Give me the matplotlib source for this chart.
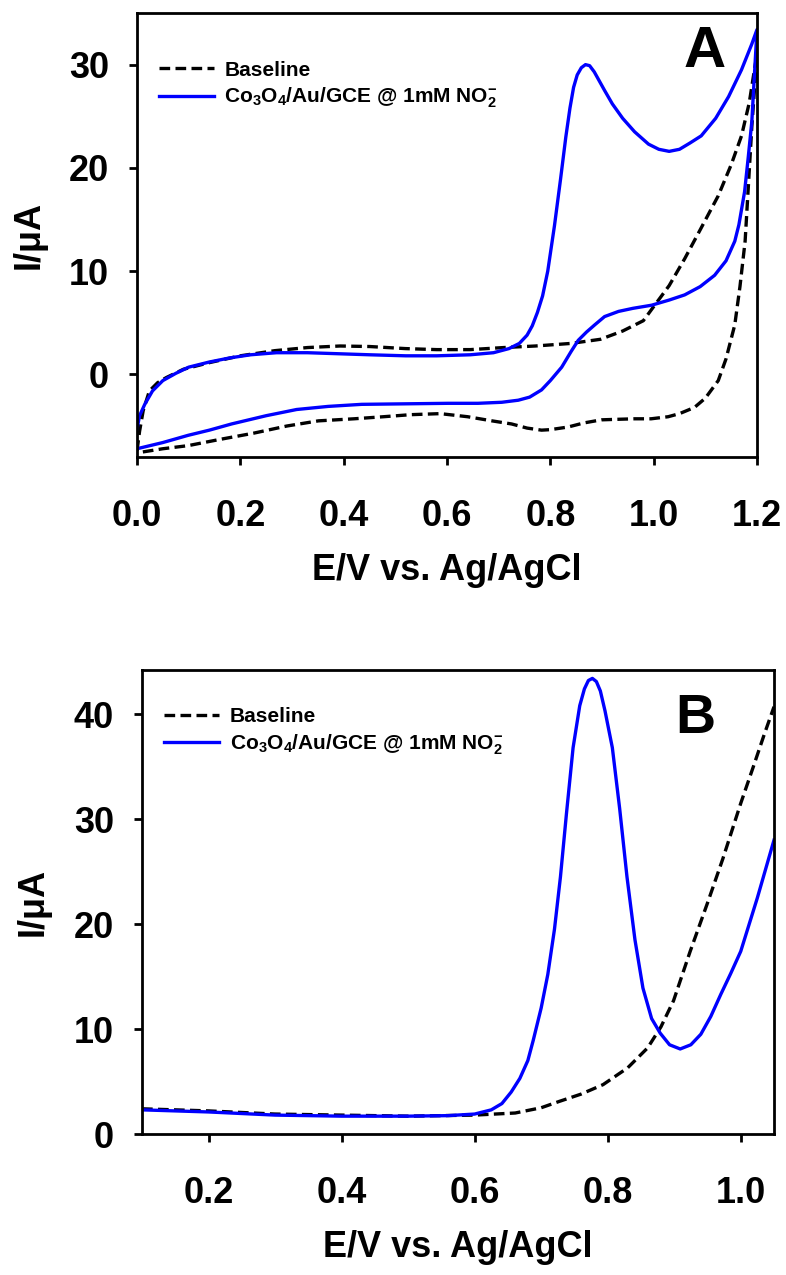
import numpy as np
import matplotlib
matplotlib.use('Agg')
import matplotlib.pyplot as plt

plt.rcParams['font.family'] = ['Liberation Sans', 'DejaVu Sans']
plt.rcParams['font.weight'] = 'bold'
plt.rcParams['mathtext.fontset'] = 'custom'
plt.rcParams['mathtext.rm'] = 'Liberation Sans:bold'
plt.rcParams['mathtext.bf'] = 'Liberation Sans:bold'
plt.rcParams['mathtext.default'] = 'bf'

# ---- Panel A: cyclic voltammograms (forward and reverse scans) ----
a_blue_fwd_E = [0.000, 0.005, 0.015, 0.03, 0.05, 0.075, 0.10, 0.14, 0.18, 0.22, 0.27, 0.33, 0.39, 0.45,
                0.52, 0.58, 0.645, 0.69, 0.72, 0.74, 0.755, 0.765, 0.775, 0.785, 0.795, 0.808, 0.82,
                0.83, 0.838, 0.845, 0.852, 0.86, 0.868, 0.876, 0.885, 0.895, 0.905, 0.92, 0.94,
                0.963, 0.99, 1.01, 1.03, 1.05, 1.07, 1.092, 1.12, 1.145, 1.17, 1.19, 1.2]
a_blue_fwd_I = [-5.3, -4.0, -2.9, -1.6, -0.6, 0.1, 0.7, 1.2, 1.6, 1.9, 2.1, 2.1, 2.0, 1.9,
                1.8, 1.8, 1.9, 2.1, 2.5, 3.0, 3.8, 4.7, 6.0, 7.6, 10.0, 14.4, 19.0,
                23.0, 25.8, 27.8, 29.0, 29.7, 30.0, 29.9, 29.3, 28.4, 27.5, 26.2, 24.8,
                23.5, 22.3, 21.8, 21.6, 21.8, 22.4, 23.1, 24.8, 26.9, 29.5, 32.0, 33.4]
a_blue_rev_E = [1.2, 1.195, 1.19, 1.183, 1.176, 1.165, 1.157, 1.14, 1.118, 1.09, 1.06, 1.03, 0.996,
                0.96, 0.932, 0.905, 0.886, 0.87, 0.854, 0.84, 0.822, 0.80, 0.783, 0.76, 0.738, 0.706,
                0.66, 0.603, 0.52, 0.435, 0.37, 0.309, 0.25, 0.183, 0.14, 0.099, 0.05, 0.0]
a_blue_rev_I = [33.4, 29.0, 24.5, 21.0, 17.7, 14.5, 12.9, 11.0, 9.6, 8.5, 7.7, 7.2, 6.7,
                6.4, 6.1, 5.6, 4.8, 4.1, 3.3, 2.2, 0.7, -0.6, -1.5, -2.2, -2.5, -2.7,
                -2.8, -2.8, -2.85, -2.9, -3.1, -3.4, -4.0, -4.8, -5.4, -5.9, -6.6, -7.2]

a_base_fwd_E = [0.0, 0.005, 0.012, 0.024, 0.04, 0.057, 0.09, 0.141, 0.2, 0.267, 0.33, 0.393, 0.45,
                0.519, 0.58, 0.645, 0.71, 0.771, 0.84, 0.897, 0.94, 0.98, 1.002, 1.03, 1.06, 1.09,
                1.125, 1.15, 1.17, 1.185, 1.195, 1.2]
a_base_fwd_I = [-7.4, -5.5, -3.5, -1.6, -0.8, -0.3, 0.5, 1.15, 1.8, 2.3, 2.6, 2.75, 2.7,
                2.5, 2.4, 2.4, 2.6, 2.75, 3.0, 3.4, 4.2, 5.2, 6.7, 8.6, 11.2, 14.0,
                17.3, 20.3, 23.1, 26.3, 29.5, 31.0]
a_base_rev_E = [1.2, 1.195, 1.19, 1.183, 1.177, 1.167, 1.157, 1.14, 1.125, 1.10, 1.079, 1.05, 1.028,
                0.995, 0.963, 0.93, 0.899, 0.865, 0.834, 0.80, 0.783, 0.755, 0.725, 0.687, 0.64,
                0.587, 0.53, 0.477, 0.42, 0.351, 0.29, 0.225, 0.16, 0.099, 0.05, 0.0]
a_base_rev_I = [31.0, 27.5, 24.0, 18.0, 12.9, 8.5, 4.8, 1.5, -0.6, -2.3, -3.2, -3.8, -4.1,
                -4.3, -4.3, -4.35, -4.4, -4.7, -5.1, -5.35, -5.4, -5.2, -4.8, -4.5, -4.1,
                -3.8, -3.9, -4.1, -4.3, -4.5, -5.0, -5.7, -6.3, -6.9, -7.2, -7.6]

# ---- Panel B: anodic sweep ----
b_blue_E = [0.1, 0.2, 0.3, 0.4, 0.5, 0.56, 0.6, 0.625, 0.641, 0.655, 0.668, 0.68, 0.688, 0.70,
            0.71, 0.72, 0.729, 0.738, 0.748, 0.758, 0.765, 0.771, 0.777, 0.783, 0.789, 0.796,
            0.807, 0.818, 0.829, 0.841, 0.853, 0.866, 0.879, 0.893, 0.909, 0.925, 0.94, 0.955,
            0.97, 0.985, 1.0, 1.025, 1.05]
b_blue_I = [2.3, 2.1, 1.8, 1.7, 1.7, 1.75, 1.9, 2.3, 2.9, 4.0, 5.3, 7.0, 8.9, 12.0,
            15.2, 19.5, 24.5, 30.5, 36.8, 40.8, 42.4, 43.2, 43.4, 43.1, 42.2, 40.3,
            36.8, 31.0, 24.5, 18.5, 13.9, 11.0, 9.6, 8.5, 8.1, 8.5, 9.5, 11.2,
            13.3, 15.3, 17.4, 22.5, 28.0]
b_base_E = [0.1, 0.2, 0.3, 0.4, 0.5, 0.6, 0.661, 0.7, 0.727, 0.76, 0.793, 0.83, 0.86, 0.88,
            0.899, 0.924, 0.95, 0.973, 1.0, 1.019, 1.035, 1.05]
b_base_I = [2.4, 2.2, 1.9, 1.8, 1.7, 1.8, 2.0, 2.5, 3.1, 3.8, 4.7, 6.3, 8.2, 10.2,
            12.7, 17.4, 22.0, 26.2, 31.5, 35.0, 38.0, 40.7]

label_base = 'Baseline'
label_blue = 'Co$_3$O$_4$/Au/GCE @ 1mM NO$_2^{-}$'
blue = '#0000ff'
dash = (0, (3.2, 1.6))

fig = plt.figure(figsize=(7.86, 12.75), dpi=100)
axA = fig.add_axes([137/786, 1-457/1275, (757-137)/786, (457-13)/1275])
axB = fig.add_axes([142/786, 1-1134/1275, (774-142)/786, (1134-670)/1275])

axA.plot(a_base_fwd_E + a_base_rev_E, a_base_fwd_I + a_base_rev_I, color='black', lw=2.4,
         linestyle=dash, label=label_base)
axA.plot(a_blue_fwd_E + a_blue_rev_E, a_blue_fwd_I + a_blue_rev_I, color=blue, lw=2.4,
         label=label_blue)
axA.set_xlim(0, 1.2)
axA.set_ylim(-8, 35)
axA.set_xticks(np.arange(0, 1.21, 0.2))
axA.set_xticklabels(['0.0', '0.2', '0.4', '0.6', '0.8', '1.0', '1.2'])
axA.set_yticks([0, 10, 20, 30])
axA.text(0.915, 0.912, 'A', transform=axA.transAxes, fontsize=42, fontweight='bold',
         ha='center', va='center')

axB.plot(b_base_E, b_base_I, color='black', lw=2.4, linestyle=dash, label=label_base)
axB.plot(b_blue_E, b_blue_I, color=blue, lw=2.4, label=label_blue)
axB.set_xlim(0.1, 1.05)
axB.set_ylim(0, 44.2)
axB.set_xticks([0.2, 0.4, 0.6, 0.8, 1.0])
axB.set_xticklabels(['0.2', '0.4', '0.6', '0.8', '1.0'])
axB.set_yticks([0, 10, 20, 30, 40])
axB.text(0.875, 0.895, 'B', transform=axB.transAxes, fontsize=40, fontweight='bold',
         ha='center', va='center')

for ax, leg_y in ((axA, 0.935), (axB, 0.96)):
    for s in ax.spines.values():
        s.set_linewidth(2.0)
    ax.tick_params(direction='out', length=6, width=2, labelsize=26, pad=24)
    ax.tick_params(axis='y', pad=14)
    for lab in ax.get_xticklabels() + ax.get_yticklabels():
        lab.set_fontweight('bold')
    ax.set_xlabel('E/V vs. Ag/AgCl', fontsize=26, fontweight='bold', labelpad=14)
    ax.set_ylabel('I/\u03bcA', fontsize=26, fontweight='bold')
    ax.yaxis.set_label_coords(-0.145, 0.5)
    ax.legend(loc='upper left', bbox_to_anchor=(0.005, leg_y), frameon=False,
              prop={'size': 15, 'weight': 'bold'}, handlelength=2.65, handletextpad=0.5,
              labelspacing=0.3)

fig.savefig('out.png', dpi=100)
